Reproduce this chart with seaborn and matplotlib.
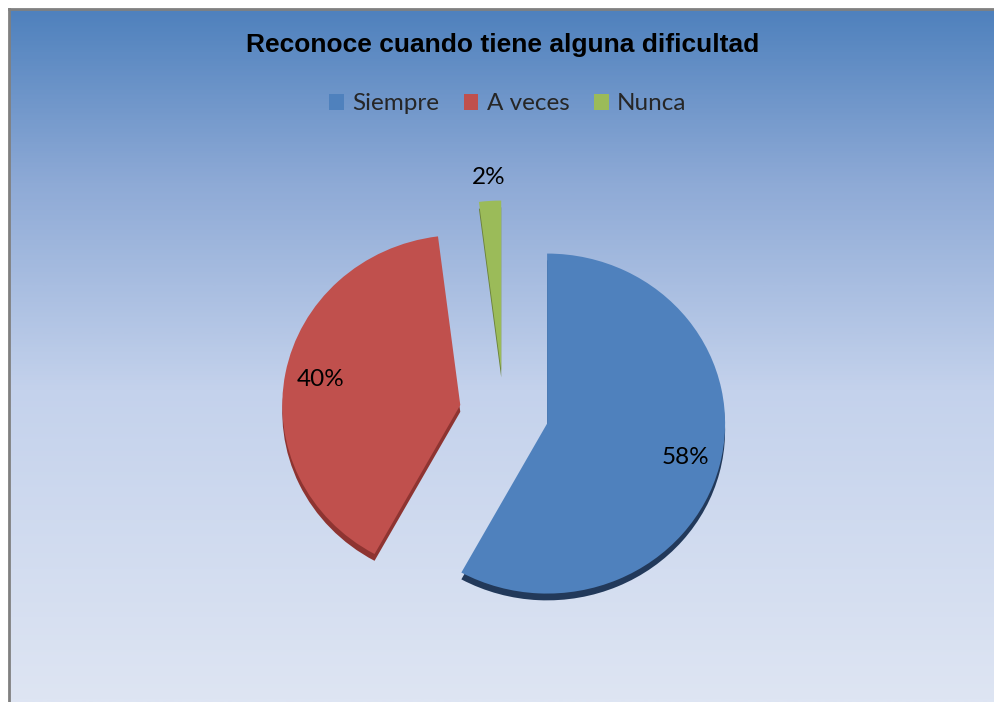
import numpy as np
import matplotlib
matplotlib.use("Agg")
import matplotlib.pyplot as plt
from matplotlib.patches import Patch
from matplotlib.colors import LinearSegmentedColormap
import seaborn as sns

# ---- data ----
title = "Reconoce cuando tiene alguna dificultad"
categories = ["Siempre", "A veces", "Nunca"]
values = [58, 40, 2]
colors = ["#4F81BD", "#C0504D", "#9BBB59"]
side_colors = ["#22395A", "#8E3431", "#6B823A"]

sns.set_style("white")
plt.rcParams["font.family"] = ["Lato", "DejaVu Sans"]

W, H = 995, 702
fig = plt.figure(figsize=(W / 100, H / 100), dpi=100, facecolor="white")

# background panel with vertical gradient
bx0, by0 = 9, 9
bg = fig.add_axes([bx0 / W, 0, 1 - bx0 / W, 1 - by0 / H])
grad_cmap = LinearSegmentedColormap.from_list(
    "bg",
    [(0.0, (79/255, 129/255, 189/255)),
     (0.25, (142/255, 170/255, 214/255)),
     (0.55, (196/255, 210/255, 236/255)),
     (1.0, (222/255, 229/255, 243/255))])
g = np.linspace(0, 1, 400).reshape(-1, 1)
bg.imshow(g, aspect="auto", cmap=grad_cmap, extent=[0, 1, 0, 1], origin="upper")
bg.set_xlim(0, 1); bg.set_ylim(0, 1)
bg.set_xticks([]); bg.set_yticks([])
for s in ["right", "bottom"]:
    bg.spines[s].set_visible(False)
for s in ["left", "top"]:
    bg.spines[s].set_color("#808080")
    bg.spines[s].set_linewidth(2)

# title
fig.text(503 / W, 1 - 45 / H, title, ha="center", va="center",
         fontsize=19, fontweight="bold", family=["Liberation Sans", "DejaVu Sans"],
         color="black")

# legend
handles = [Patch(facecolor=c, edgecolor="none", label=l) for c, l in zip(colors, categories)]
fig.legend(handles=handles, loc="center", bbox_to_anchor=(508 / W, 1 - 104 / H),
           ncol=3, frameon=False, fontsize=17.5, handlelength=0.6, handleheight=0.6,
           handletextpad=0.35, columnspacing=1.0, borderpad=0)

# pie
cx, cy = 504, 413
rx, ry = 178, 170
lim = 1.5
ax = fig.add_axes([(cx - lim * rx) / W, (H - cy - lim * ry) / H,
                   2 * lim * rx / W, 2 * lim * ry / H])
ax.set_facecolor("none")
explode = [0.25, 0.25, 0.25]

# side / depth layer
ax.pie(values, colors=side_colors, startangle=90, counterclock=False,
       explode=explode, center=(0, -0.04), wedgeprops=dict(linewidth=0))
wedges, texts, autotexts = ax.pie(values, colors=colors, startangle=90, counterclock=False,
                                  explode=explode, autopct="%1.0f%%", pctdistance=0.8,
                                  wedgeprops=dict(linewidth=0),
                                  textprops=dict(fontsize=17.5, color="black"))
# small slice label placed outside
w = wedges[2]
mid = np.deg2rad((w.theta1 + w.theta2) / 2)
autotexts[2].set_position((w.center[0] + 1.14 * np.cos(mid), w.center[1] + 1.14 * np.sin(mid)))

ax.set_aspect("auto")
ax.set_xlim(-lim, lim)
ax.set_ylim(-lim, lim)
ax.axis("off")

fig.savefig("out.png", dpi=100, facecolor="white")
